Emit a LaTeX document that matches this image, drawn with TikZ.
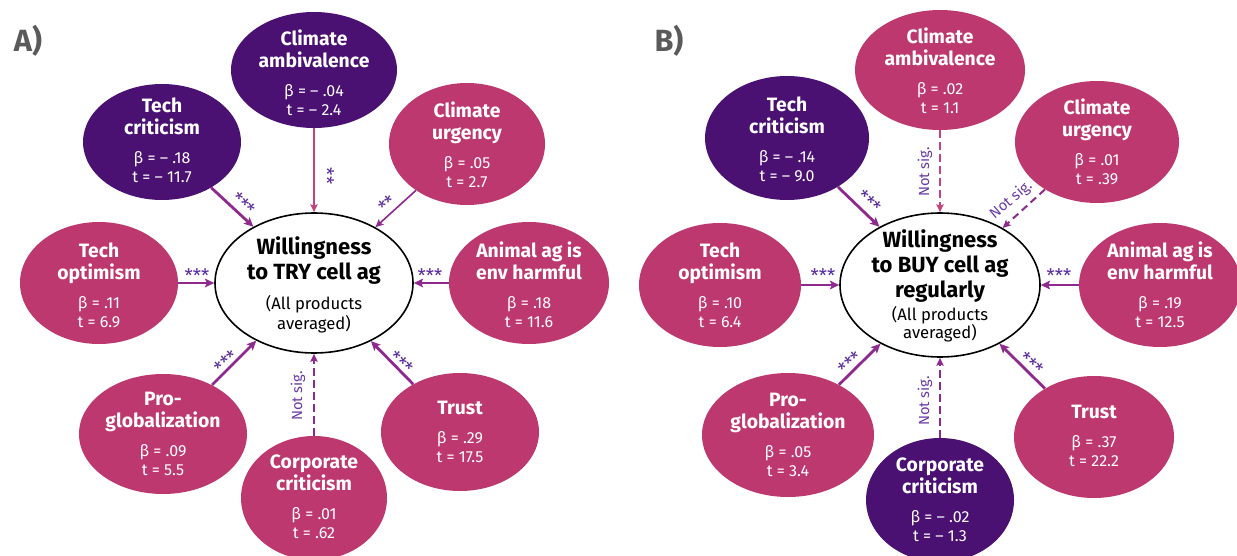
\documentclass[tikz,border=0pt]{standalone}
\usepackage{fontspec}
\setmainfont{Fira Sans}
\usetikzlibrary{arrows.meta,shapes.geometric}
\definecolor{epink}{HTML}{BE3870}
\definecolor{dpurp}{HTML}{4A1172}
\definecolor{arrc}{HTML}{8E2A8E}
\definecolor{epinkl}{HTML}{C4437C}
\definecolor{starc}{HTML}{5A2E9E}
\definecolor{nsc}{HTML}{6B3BA5}
\definecolor{lblc}{HTML}{5A5A5A}
\newcommand\ebody[2]{\parbox{95pt}{\centering\fontsize{14.5}{16.5}\selectfont\bfseries #1\par\vspace{7.5pt}\fontsize{12}{14.25}\selectfont\mdseries #2\par}}
\tikzset{
  ell/.style n args={2}{ellipse, draw=none, inner sep=0pt, minimum width={#1*1.5pt}, minimum height={#2*1.5pt}},
  pk/.style={fill=epink},
  dp/.style={fill=dpurp},
  ctr/.style={fill=white, draw=black, line width=1.2pt},
  txt/.style={text=white, inner sep=0pt},
  ctxt/.style={text=black, inner sep=0pt},
  thk/.style={draw=arrc, line width=2.1pt, -{Stealth[length=7pt,width=6.5pt,inset=1.5pt]}},
  thn/.style={line width=1.2pt, -{Stealth[length=6pt,width=5.5pt,inset=1.2pt]}},
  dsh/.style={thn, line width=1.5pt, dash pattern=on 5.5pt off 3.5pt},
  star/.style={text=starc, font=\fontsize{14}{14}\selectfont, inner sep=0pt},
  ns/.style={text=nsc, font=\fontsize{11}{11}\selectfont, inner sep=0pt},
  plbl/.style={text=lblc, font=\fontsize{23}{23}\selectfont\bfseries, inner sep=0pt},
}
\begin{document}
\begin{tikzpicture}[x=0.75pt,y=-0.75pt]
\fill[white] (0,0) rectangle (1237,556);
\useasboundingbox (0,0) rectangle (1237,556);

% ---------------- Panel A ----------------
\node[plbl] (lA) at (28,41) {A)};
\node[ell={83}{58}, dp] (ca) at (314,70) {};
\node[ell={79}{58}, dp] (tc) at (162,142) {};
\node[ell={78}{61}, pk] (cu) at (467,144) {};
\node[ell={79}{61}, pk] (to) at (99,283) {};
\node[ell={80}{61}, pk] (aa) at (529,283) {};
\node[ell={84}{60}, pk] (pg) at (163,434) {};
\node[ell={73}{62}, pk] (cc) at (314,498) {};
\node[ell={79}{59}, pk] (tr) at (460,432) {};
\node[ell={99}{70}, ctr] (cA) at (314,283) {};

\node[txt] (caT) at (314,73) {\ebody{Climate\\ambivalence}{β = – .04\\t = – 2.4}};
\node[txt] (tcT) at (162,140) {\ebody{Tech\\criticism}{β = – .18\\t = – 11.7}};
\node[txt] (cuT) at (467,145) {\ebody{Climate\\urgency}{β = .05\\t = 2.7}};
\node[txt] (toT) at (99,285) {\ebody{Tech\\optimism}{β = .11\\t = 6.9}};
\node[txt] (aaT) at (529,285) {\ebody{Animal ag is\\env harmful}{β = .18\\t = 11.6}};
\node[txt] (pgT) at (163,434) {\ebody{Pro-\\globalization}{β = .09\\t = 5.5}};
\node[txt] (ccT) at (314,497) {\ebody{Corporate\\criticism}{β = .01\\t = .62}};
\node[txt] (trT) at (460,432) {\ebody{Trust}{β = .29\\t = 17.5}};
\node[ctxt] (cAT) at (314,285) {\parbox{130pt}{\centering\fontsize{16.5}{18.75}\selectfont\bfseries Willingness\\to TRY cell ag\par\vspace{7.5pt}\fontsize{12.5}{15}\selectfont\mdseries (All products\\averaged)\par}};

\draw[thk] (tc) -- (cA);
\draw[thn, draw=epinkl] (ca) -- (cA);
\draw[thn, draw=arrc] (cu) -- (cA);
\draw[thk] (to) -- (cA);
\draw[thk] (aa) -- (cA);
\draw[thk] (pg) -- (cA);
\draw[thk] (tr) -- (cA);
\draw[dsh, draw=arrc] (cc) -- (cA);

\node[star, rotate=-44] (s1) at (243,204) {***};
\node[star, rotate=-90] (s2) at (327,176) {**};
\node[star, rotate=42] (s3) at (387,204) {**};
\node[star] (s4) at (197,276) {***};
\node[star] (s5) at (430,276) {***};
\node[star, rotate=42] (s6) at (226,362) {***};
\node[star, rotate=-42] (s7) at (401,363) {***};
\node[ns, rotate=90] (n1) at (298,396) {Not sig.};

% ---------------- Panel B ----------------
\node[plbl] (lB) at (669,41) {B)};
\node[ell={85}{60}, pk] (caB) at (940,70) {};
\node[ell={82}{62}, dp] (tcB) at (787,138) {};
\node[ell={82}{61}, pk] (cuB) at (1097,142) {};
\node[ell={81}{62}, pk] (toB) at (720,285) {};
\node[ell={81}{62}, pk] (aaB) at (1160,285) {};
\node[ell={86}{62}, pk] (pgB) at (788,435) {};
\node[ell={74}{62}, dp] (ccB) at (940,500) {};
\node[ell={80}{61}, pk] (trB) at (1094,437) {};
\node[ell={100}{72}, ctr] (cB) at (940,285) {};

\node[txt] (caBT) at (940,71) {\ebody{Climate\\ambivalence}{β = .02\\t = 1.1}};
\node[txt] (tcBT) at (787,139) {\ebody{Tech\\criticism}{β = – .14\\t = – 9.0}};
\node[txt] (cuBT) at (1097,142) {\ebody{Climate\\urgency}{β = .01\\t = .39}};
\node[txt] (toBT) at (720,285) {\ebody{Tech\\optimism}{β = .10\\t = 6.4}};
\node[txt] (aaBT) at (1160,285) {\ebody{Animal ag is\\env harmful}{β = .19\\t = 12.5}};
\node[txt] (pgBT) at (788,435) {\ebody{Pro-\\globalization}{β = .05\\t = 3.4}};
\node[txt] (ccBT) at (940,500) {\ebody{Corporate\\criticism}{β = – .02\\t = – 1.3}};
\node[txt] (trBT) at (1094,436) {\ebody{Trust}{β = .37\\t = 22.2}};
\node[ctxt] (cBT) at (940,286) {\parbox{130pt}{\centering\fontsize{16.5}{18.75}\selectfont\bfseries Willingness\\to BUY cell ag\\regularly\par\vspace{2.5pt}\fontsize{12.5}{13.5}\selectfont\mdseries (All products\\averaged)\par}};

\draw[thk] (tcB) -- (cB);
\draw[dsh, draw=epinkl] (caB) -- (cB);
\draw[dsh, draw=arrc] (cuB) -- (cB);
\draw[thk] (toB) -- (cB);
\draw[thk] (aaB) -- (cB);
\draw[thk] (pgB) -- (cB);
\draw[thk] (trB) -- (cB);
\draw[dsh, draw=arrc] (ccB) -- (cB);

\node[star, rotate=-42] (t1) at (869,202) {***};
\node[star] (t4) at (823,276) {***};
\node[star] (t5) at (1059,276) {***};
\node[star, rotate=42] (t6) at (850,363) {***};
\node[star, rotate=-42] (t7) at (1031,364) {***};
\node[ns, rotate=90] (m1) at (925,172) {Not sig.};
\node[ns, rotate=40] (m2) at (1011,200) {Not sig.};
\node[ns, rotate=90] (m3) at (925,401) {Not sig.};
\end{tikzpicture}
\end{document}
